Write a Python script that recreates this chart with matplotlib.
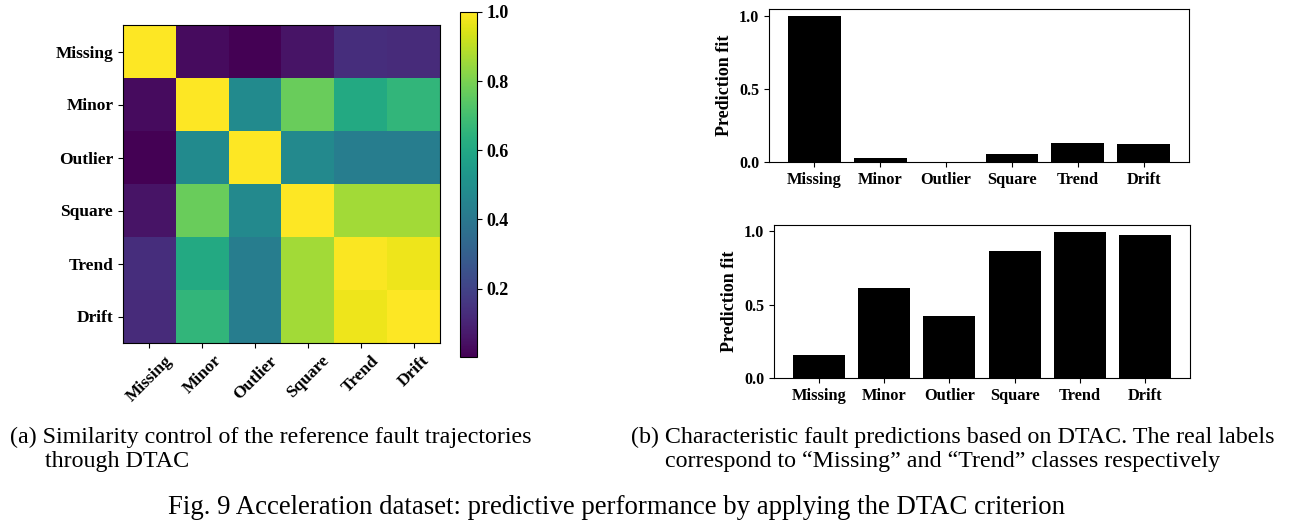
import numpy as np
import matplotlib
matplotlib.use("Agg")
import matplotlib.pyplot as plt

plt.rcParams['font.family'] = ['Liberation Serif', 'DejaVu Serif']

classes = ["Missing", "Minor", "Outlier", "Square", "Trend", "Drift"]

# Pairwise DTAC similarity between reference fault trajectories
similarity = np.array([
    [1.000, 0.030, 0.002, 0.055, 0.132, 0.126],
    [0.030, 1.000, 0.480, 0.770, 0.610, 0.660],
    [0.002, 0.480, 1.000, 0.470, 0.425, 0.425],
    [0.055, 0.770, 0.470, 1.000, 0.863, 0.863],
    [0.132, 0.610, 0.425, 0.863, 0.993, 0.975],
    [0.126, 0.660, 0.425, 0.863, 0.975, 1.000],
])

# Prediction fit of two test samples against each class
fit_missing = [0.995, 0.030, 0.002, 0.055, 0.132, 0.126]
fit_trend = [0.158, 0.610, 0.425, 0.863, 0.993, 0.975]

W, H = 1289, 522
fig = plt.figure(figsize=(W / 100, H / 100), dpi=100)


def px_axes(x0, y0, x1, y1):
    return fig.add_axes([x0 / W, 1 - y1 / H, (x1 - x0) / W, (y1 - y0) / H])


bold = dict(fontweight='bold')

# (a) similarity heatmap
ax = px_axes(123, 25, 440, 343)
im = ax.imshow(similarity, cmap='viridis', aspect='auto')
ax.set_xticks(range(len(classes)))
ax.set_yticks(range(len(classes)))
ax.set_xticklabels(classes, rotation=45, ha='center', fontsize=12.5, **bold)
ax.set_yticklabels(classes, fontsize=12.5, **bold)

cax = px_axes(460, 12, 477, 357)
cb = fig.colorbar(im, cax=cax)
cb.set_ticks([0.2, 0.4, 0.6, 0.8, 1.0])
for t in cax.get_yticklabels():
    t.set_fontsize(13)
    t.set_fontweight('bold')


def bar_panel(axb, values):
    axb.bar(classes, values, width=0.8, color='black')
    axb.set_ylabel("Prediction fit", fontsize=13, **bold)
    axb.set_yticks([0.0, 0.5, 1.0])
    for t in axb.get_xticklabels():
        t.set_fontsize(11.8)
        t.set_fontweight('bold')
    for t in axb.get_yticklabels():
        t.set_fontsize(11.5)
        t.set_fontweight('bold')


# (b) prediction fits
ax1 = px_axes(769, 9, 1189, 162)
bar_panel(ax1, fit_missing)
ax2 = px_axes(774, 225, 1190, 378)
bar_panel(ax2, fit_trend)

cap = dict(fontsize=17.3, va='center')
fig.text(10 / W, 1 - 437 / H, "(a) Similarity control of the reference fault trajectories", **cap)
fig.text(45 / W, 1 - 461 / H, "through DTAC", **cap)
fig.text(631 / W, 1 - 437 / H, "(b) Characteristic fault predictions based on DTAC. The real labels", **cap)
fig.text(665 / W, 1 - 461 / H, "correspond to \u201cMissing\u201d and \u201cTrend\u201d classes respectively", **cap)
fig.text(617 / W, 1 - 507 / H, "Fig. 9 Acceleration dataset: predictive performance by applying the DTAC criterion",
         ha='center', fontsize=19.3, va='center')

fig.savefig("out.png", dpi=100)
